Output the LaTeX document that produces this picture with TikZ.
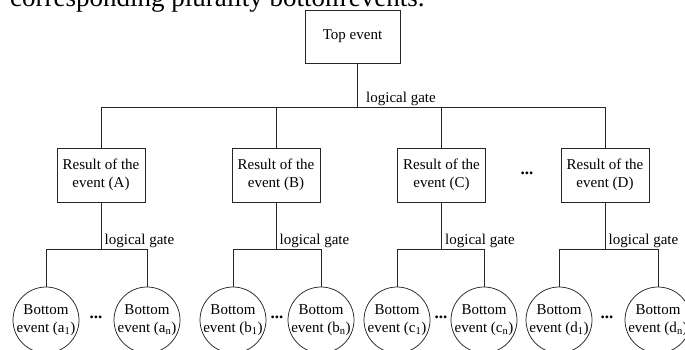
\documentclass[tikz,border=0pt]{standalone}
\usepackage{fontspec}
\setmainfont{Liberation Serif}
\begin{document}
\begin{tikzpicture}[x=1pt,y=-1pt,
  every node/.style={font=\fontsize{15}{18.5}\selectfont, inner sep=0pt},
  ln/.style={draw=black!85, line width=0.75pt},
  ebox/.style={draw=black!85, line width=0.75pt, minimum width=88pt, minimum height=54pt, align=center},
  topbox/.style={draw=black!85, line width=0.75pt, minimum width=95pt, minimum height=53pt},
  bcirc/.style={draw=black!85, circle, line width=0.75pt, minimum size=66pt},
  btext/.style={align=center},
  gate/.style={anchor=base west},
  dots/.style={font=\fontsize{17}{18}\selectfont\bfseries}]
\useasboundingbox (0,0) rectangle (685,349);
\clip (0,0) rectangle (685,349);

% partially visible heading line
\node[anchor=base west, font=\fontsize{27}{30}\selectfont] (head) at (10,6.5) {corresponding plurality bottom\hspace{-4pt} events.};

% top event
\node[topbox] (top) at (352.5,36.5) {Top event};
\coordinate (g0) at (357,107);
\node[gate] (g0t) at (366,102) {logical gate};

% intermediate events
\node[ebox] (A) at (101,175) {Result of the\\event (A)};
\node[ebox] (B) at (276,175) {Result of the\\event (B)};
\node[ebox] (C) at (441.5,175) {Result of the\\event (C)};
\node[ebox] (D) at (605,175) {Result of the\\event (D)};
\node[dots] (cdd) at (527,173) {...};

\draw[ln] (top.south -| g0) -- (g0);
\draw[ln] (A.north) -- (A.north |- g0) -- (D.north |- g0) -- (D.north);
\draw[ln] (B.north |- g0) -- (B.north);
\draw[ln] (C.north |- g0) -- (C.north);

% bottom events
\node[bcirc] (a1) at (46,320) {};
\node[bcirc] (an) at (147,320) {};
\node[bcirc] (b1) at (233,320) {};
\node[bcirc] (bn) at (321,320) {};
\node[bcirc] (c1) at (397,320) {};
\node[bcirc] (cn) at (484,320) {};
\node[bcirc] (d1) at (559,320) {};
\node[bcirc] (dn) at (658,320) {};

\node[btext] (a1t) at (a1) {Bottom\\event (a\textsubscript{1})};
\node[btext] (ant) at (an) {Bottom\\event (a\textsubscript{n})};
\node[btext] (b1t) at (b1) {Bottom\\event (b\textsubscript{1})};
\node[btext] (bnt) at (bn) {Bottom\\event (b\textsubscript{n})};
\node[btext] (c1t) at (c1) {Bottom\\event (c\textsubscript{1})};
\node[btext] (cnt) at (cn) {Bottom\\event (c\textsubscript{n})};
\node[btext] (d1t) at (d1) {Bottom\\event (d\textsubscript{1})};
\node[btext] (dnt) at (dn) {Bottom\\event (d\textsubscript{n})};

\node[dots] (ad) at (96,317) {...};
\node[dots] (bd) at (277,317) {...};
\node[dots] (cd) at (441,317) {...};
\node[dots] (dd) at (607,317) {...};

% gates
\coordinate (ga) at (A.south |- 0,249);
\coordinate (gb) at (B.south |- 0,249);
\coordinate (gc) at (C.south |- 0,249);
\coordinate (gd) at (D.south |- 0,249);
\node[gate] (gat) at ([xshift=3.5pt,yshift=5pt]ga) {logical gate};
\node[gate] (gbt) at ([xshift=3.5pt,yshift=5pt]gb) {logical gate};
\node[gate] (gct) at ([xshift=3.5pt,yshift=5pt]gc) {logical gate};
\node[gate] (gdt) at ([xshift=3.5pt,yshift=5pt]gd) {logical gate};

\draw[ln] (A.south) -- (ga);
\draw[ln] (B.south) -- (gb);
\draw[ln] (C.south) -- (gc);
\draw[ln] (D.south) -- (gd);
\draw[ln] (a1.north) -- (a1.north |- ga) -- (an.north |- ga) -- (an.north);
\draw[ln] (b1.north) -- (b1.north |- gb) -- (bn.north |- gb) -- (bn.north);
\draw[ln] (c1.north) -- (c1.north |- gc) -- (cn.north |- gc) -- (cn.north);
\draw[ln] (d1.north) -- (d1.north |- gd) -- (dn.north |- gd) -- (dn.north);
\end{tikzpicture}
\end{document}
